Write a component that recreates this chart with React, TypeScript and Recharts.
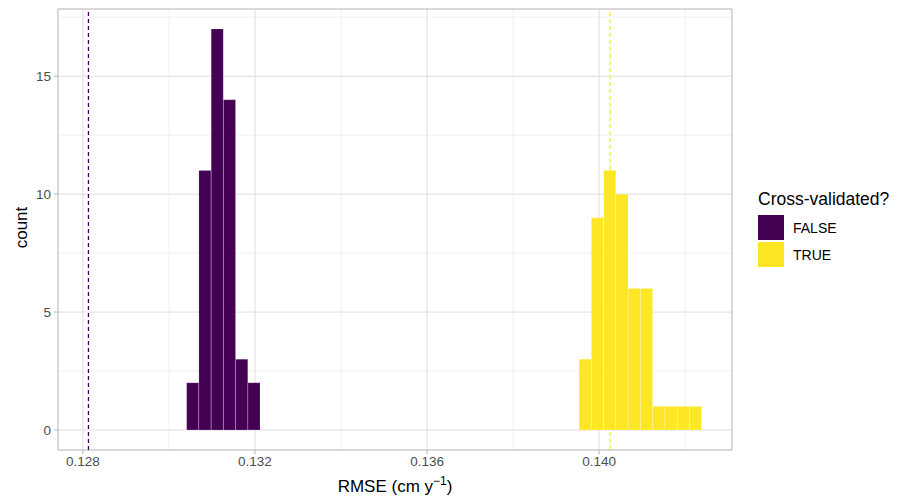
import {
  ComposedChart,
  Bar,
  Cell,
  XAxis,
  YAxis,
  CartesianGrid,
  ReferenceLine,
  ReferenceArea,
} from "recharts";

const groups = ["FALSE", "TRUE"];
const groupColors = ["#440154", "#FDE725"];

// histogram bin centres and counts
const falseBins = [0.130554, 0.130839, 0.131125, 0.13141, 0.131695, 0.13198];
const falseCounts = [2, 11, 17, 14, 3, 2];
const trueBins = [
  0.139679, 0.139964, 0.14025, 0.140535, 0.14082, 0.141105, 0.14139, 0.141675,
  0.141961, 0.142246,
];
const trueCounts = [3, 9, 11, 10, 6, 6, 1, 1, 1, 1];

// dashed lines, one per group
const refLines = [0.128128, 0.140256];

const xTicks = [0.128, 0.132, 0.136, 0.14];
const xMinor = [0.13, 0.134, 0.138, 0.142];
const yTicks = [0, 5, 10, 15];
const yMinor = [2.5, 7.5, 12.5, 17.5];
const xDomain = [0.12742, 0.14309];
const yDomain = [-0.85, 17.85];

const FONT = "'Liberation Sans', Arial, Helvetica, sans-serif";

const data = [
  ...falseBins.map((x, i) => ({ rmse: x, count: falseCounts[i], group: 0 })),
  ...trueBins.map((x, i) => ({ rmse: x, count: trueCounts[i], group: 1 })),
];

function XTitle({ viewBox }: any) {
  const cx = viewBox.x + viewBox.width / 2;
  return (
    <text x={cx} y={492} textAnchor="middle" fontSize={17} fontFamily={FONT} fill="#000">
      RMSE (cm y
      <tspan dy={-7} fontSize={12}>−1</tspan>
      <tspan dy={7}>)</tspan>
    </text>
  );
}

function YTitle({ viewBox }: any) {
  const cy = viewBox.y + viewBox.height / 2 - 2;
  return (
    <text
      x={21}
      y={cy}
      transform={`rotate(-90, 21, ${cy})`}
      textAnchor="middle"
      dominantBaseline="central"
      fontSize={17}
      fontFamily={FONT}
      fill="#000"
    >
      count
    </text>
  );
}

export default function App() {
  return (
    <div style={{ position: "absolute", left: 0, top: 0, width: 906, height: 500, background: "#fff" }}>
      <ComposedChart
        width={906}
        height={500}
        data={data}
        margin={{ top: 9, right: 174, bottom: 28, left: 18 }}
        barCategoryGap={0}
        barGap={0}
      >
        <CartesianGrid
          horizontalValues={yMinor}
          verticalValues={xMinor}
          stroke="#E6E6E6"
          strokeWidth={0.6}
        />
        <CartesianGrid
          horizontalValues={yTicks}
          verticalValues={xTicks}
          stroke="#DEDEDE"
          strokeWidth={1}
        />
        <XAxis
          type="number"
          dataKey="rmse"
          domain={xDomain}
          allowDataOverflow
          ticks={xTicks}
          tickFormatter={(v: number) => v.toFixed(3)}
          tick={{ fill: "#4D4D4D", fontSize: 13.5, fontFamily: FONT }}
          tickLine={{ stroke: "#B3B3B3" }}
          tickSize={4}
          tickMargin={2}
          axisLine={false}
          height={22}
          label={<XTitle />}
        />
        <YAxis
          type="number"
          domain={yDomain}
          allowDataOverflow
          ticks={yTicks}
          tick={{ fill: "#4D4D4D", fontSize: 13.5, fontFamily: FONT }}
          tickLine={{ stroke: "#B3B3B3" }}
          tickSize={4}
          tickMargin={3}
          axisLine={false}
          width={40}
          label={<YTitle />}
        />
        <Bar
          dataKey="count"
          isAnimationActive={false}
          stroke="rgba(255,255,255,0.22)"
          strokeWidth={0.6}
        >
          {data.map((d, i) => (
            <Cell key={i} fill={groupColors[d.group]} />
          ))}
        </Bar>
        {refLines.map((x, i) => (
          <ReferenceLine
            key={i}
            x={x}
            stroke={groupColors[i]}
            strokeWidth={1.3}
            strokeDasharray="4 3"
          />
        ))}
        <ReferenceArea
          x1={xDomain[0]}
          x2={xDomain[1]}
          y1={yDomain[0]}
          y2={yDomain[1]}
          fill="none"
          stroke="#B3B3B3"
          strokeWidth={1}
        />
      </ComposedChart>
      <div
        style={{
          position: "absolute",
          left: 758,
          top: 189,
          fontFamily: FONT,
          color: "#000",
        }}
      >
        <div style={{ fontSize: 17.5, lineHeight: "20px", marginBottom: 5, whiteSpace: "nowrap" }}>
          Cross-validated?
        </div>
        {groups.map((g, i) => (
          <div key={g} style={{ display: "flex", alignItems: "center", height: 27 }}>
            <div style={{ width: 26, height: 25, background: groupColors[i] }} />
            <div style={{ marginLeft: 9, fontSize: 14 }}>{g}</div>
          </div>
        ))}
      </div>
    </div>
  );
}
